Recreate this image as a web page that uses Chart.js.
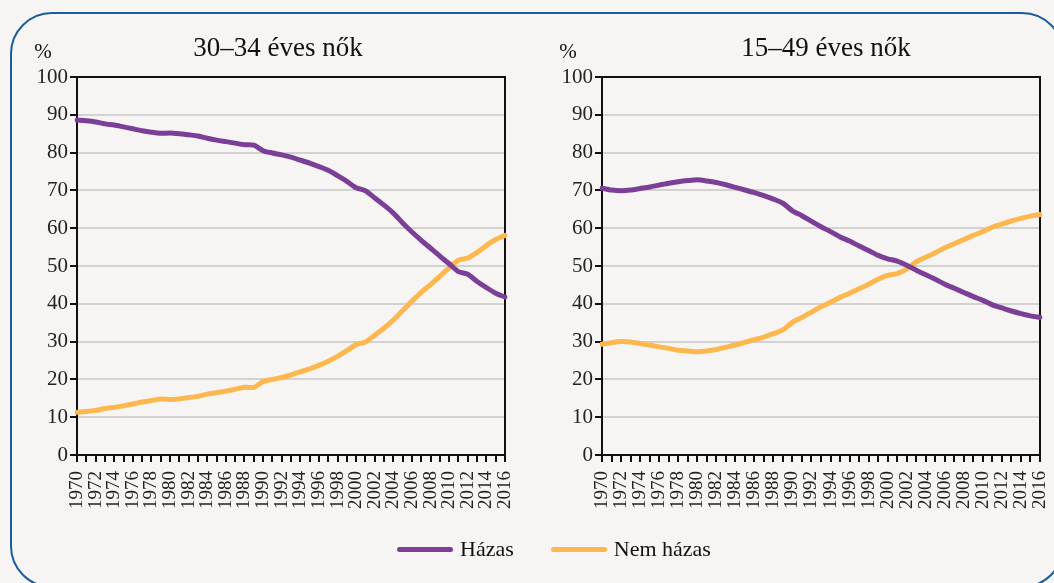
<!DOCTYPE html>
<html lang="hu">
<head>
<meta charset="utf-8">
<script src="https://cdn.jsdelivr.net/npm/chart.js@4.4.0/dist/chart.umd.min.js"></script>
<style>
    html, body { margin: 0; padding: 0; background: #f6f5f3; }
    body { width: 1054px; height: 583px; position: relative; overflow: hidden; font-family: "Liberation Serif", "DejaVu Serif", serif; }
    .frame { position: absolute; left: 10px; top: 12px; width: 1054px; height: 576px; border: 2px solid #1b5c9e; border-radius: 42px; box-sizing: border-box; }
    .chart-box { position: absolute; top: 0; width: 527px; height: 540px; }
    #box-left { left: 0; }
    #box-right { left: 527px; }
    .legend { position: absolute; left: 397px; top: 536px; display: flex; align-items: center; font-size: 22px; color: #111; }
    .legend .item { display: flex; align-items: center; margin-right: 37px; }
    .legend .swatch { width: 56px; height: 5px; border-radius: 3px; margin-right: 7px; }
</style>
</head>
<body>
<div class="frame"></div>
<div class="chart-box" id="box-left"><canvas id="chartLeft"></canvas></div>
<div class="chart-box" id="box-right"><canvas id="chartRight"></canvas></div>
<div class="legend" id="legend"></div>

<script>
// Years on the x axis
const years = [];
for (let y = 1970; y <= 2016; y++) years.push(String(y));

const seriesNames = ['Házas', 'Nem házas'];
const seriesColors = ['#7b3f97', '#fcb84f'];
const chartTitles = ['30–34 éves nők', '15–49 éves nők'];
const yTicks = [0, 10, 20, 30, 40, 50, 60, 70, 80, 90, 100];

// 30-34 year old women (%)
const marriedYoung = [
    88.6, 88.4, 88.1, 87.6, 87.3, 86.8, 86.3, 85.8, 85.4, 85.1,
    85.2, 85.0, 84.7, 84.4, 83.8, 83.3, 82.9, 82.5, 82.1, 82.0,
    80.5, 79.9, 79.4, 78.8, 78.0, 77.2, 76.3, 75.3, 73.9, 72.4,
    70.7, 69.9, 68.0, 66.1, 64.0, 61.4, 59.0, 56.8, 54.7, 52.6,
    50.6, 48.5, 47.8, 45.9, 44.3, 42.8, 41.8
];
const unmarriedYoung = [
    11.3, 11.5, 11.8, 12.3, 12.6, 13.0, 13.5, 14.0, 14.4, 14.8,
    14.7, 14.8, 15.2, 15.5, 16.1, 16.5, 16.9, 17.4, 17.9, 17.9,
    19.4, 20.0, 20.5, 21.2, 22.0, 22.8, 23.7, 24.8, 26.1, 27.6,
    29.2, 29.9, 31.7, 33.6, 35.7, 38.2, 40.7, 43.0, 45.1, 47.3,
    49.5, 51.5, 52.1, 53.6, 55.4, 57.0, 58.1
];

// 15-49 year old women (%)
const marriedAll = [
    70.6, 70.1, 69.9, 70.1, 70.5, 70.9, 71.4, 71.9, 72.3, 72.6,
    72.8, 72.5, 72.1, 71.5, 70.8, 70.1, 69.4, 68.6, 67.7, 66.6,
    64.6, 63.3, 61.8, 60.4, 59.1, 57.7, 56.6, 55.3, 54.1, 52.8,
    51.9, 51.3, 50.2, 48.9, 47.7, 46.5, 45.2, 44.1, 43.0, 41.9,
    40.9, 39.7, 38.9, 38.1, 37.4, 36.8, 36.4
];
const unmarriedAll = [
    29.3, 29.7, 30.0, 29.9, 29.5, 29.1, 28.6, 28.2, 27.7, 27.5,
    27.3, 27.5, 27.9, 28.5, 29.1, 29.8, 30.5, 31.2, 32.1, 33.1,
    35.1, 36.4, 37.8, 39.2, 40.4, 41.7, 42.8, 44.0, 45.2, 46.5,
    47.5, 48.0, 49.2, 51.1, 52.3, 53.5, 54.8, 55.9, 57.0, 58.1,
    59.1, 60.3, 61.1, 61.9, 62.6, 63.2, 63.6
];

const FONT = '"Liberation Serif", "DejaVu Serif", serif';

// Title, "%" label and the black frame round the plot area
const decorPlugin = {
    id: 'decor',
    beforeDatasetsDraw(chart, args, opts) {
        const { ctx, chartArea } = chart;
        ctx.save();
        ctx.strokeStyle = '#111';
        ctx.lineWidth = 2;
        ctx.strokeRect(chartArea.left, chartArea.top, chartArea.right - chartArea.left, chartArea.bottom - chartArea.top);
        ctx.restore();
    },
    afterDraw(chart, args, opts) {
        const { ctx, chartArea } = chart;
        ctx.save();
        ctx.fillStyle = '#111';
        ctx.textBaseline = 'middle';
        ctx.textAlign = 'center';
        ctx.font = '27px ' + FONT;
        ctx.fillText(opts.title, opts.titleX, 49);
        ctx.font = '21px ' + FONT;
        ctx.fillText('%', chartArea.left - 34, 52);
        ctx.restore();
    }
};

function makeChart(canvasId, married, unmarried, title, padRight, axisWidth, titleX) {
    const ctx = document.getElementById(canvasId).getContext('2d');
    return new Chart(ctx, {
        type: 'line',
        data: {
            labels: years,
            datasets: [married, unmarried].map((vals, i) => ({
                label: seriesNames[i],
                data: vals,
                borderColor: seriesColors[i],
                backgroundColor: seriesColors[i],
                borderWidth: 5,
                pointRadius: 0,
                tension: 0.25,
                borderCapStyle: 'round',
                borderJoinStyle: 'round',
                fill: false
            }))
        },
        options: {
            responsive: true,
            maintainAspectRatio: false,
            animation: false,
            layout: { padding: { left: 0, right: padRight, top: 77, bottom: 10 } },
            plugins: {
                legend: { display: false },
                tooltip: { enabled: false },
                decor: { title: title, titleX: titleX }
            },
            scales: {
                x: {
                    offset: false,
                    afterFit: scale => {
                        scale.height = 75;
                        scale.paddingLeft = 0;
                        scale.paddingRight = 0;
                    },
                    border: { color: '#111', width: 2 },
                    grid: { drawOnChartArea: false, drawTicks: true, tickLength: 7, color: '#111', lineWidth: 2 },
                    ticks: {
                        autoSkip: false,
                        minRotation: 90,
                        maxRotation: 90,
                        padding: 9,
                        color: '#222',
                        font: { family: FONT, size: 19 },
                        callback: (v, i) => (i % 2 === 0 ? years[i] : '')
                    }
                },
                y: {
                    min: 0,
                    max: 100,
                    afterFit: scale => { scale.width = axisWidth; },
                    afterBuildTicks: scale => { scale.ticks = yTicks.map(v => ({ value: v })); },
                    border: { color: '#111', width: 2 },
                    grid: { color: '#d2d2d0', lineWidth: 2, tickLength: 7, tickColor: '#111' },
                    ticks: {
                        padding: 2,
                        color: '#222',
                        font: { family: FONT, size: 21 }
                    }
                }
            }
        },
        plugins: [decorPlugin]
    });
}

makeChart('chartLeft', marriedYoung, unmarriedYoung, chartTitles[0], 22, 77, 278);
makeChart('chartRight', marriedAll, unmarriedAll, chartTitles[1], 14, 75, 299);

// Shared legend under both charts
const legend = document.getElementById('legend');
seriesNames.forEach((name, i) => {
    const item = document.createElement('div');
    item.className = 'item';
    item.innerHTML = `<span class="swatch" style="background:${seriesColors[i]}"></span><span>${name}</span>`;
    legend.appendChild(item);
});
</script>
</body>
</html>
